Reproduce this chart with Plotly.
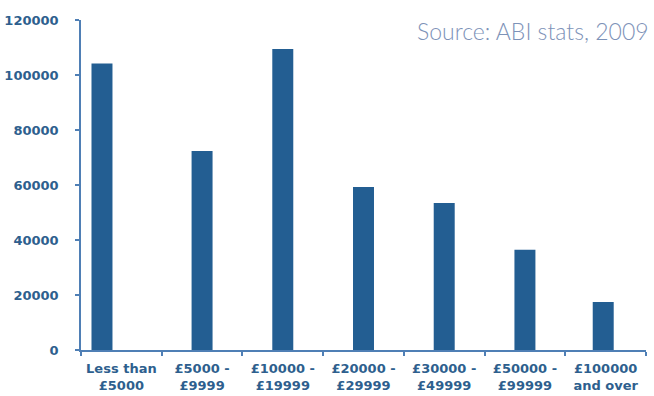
import plotly.graph_objects as go

categories = ["Less than<br>£5000", "£5000 -<br>£9999", "£10000 -<br>£19999",
              "£20000 -<br>£29999", "£30000 -<br>£49999", "£50000 -<br>£99999",
              "£100000<br>and over"]
values = [104200, 72400, 109500, 59300, 53500, 36500, 17500]
y_ticks = [0, 20000, 40000, 60000, 80000, 100000, 120000]

bar_offsets = [-0.37, -0.13, -0.13, -0.13, -0.13, -0.13, -0.16]

text_color = "#2E5F8E"
axis_color = "#4F7FB5"

fig = go.Figure(go.Bar(
    x=categories, y=values,
    marker=dict(color="#235E92", line=dict(width=0)),
    width=0.26, offset=bar_offsets,
))

fig.update_layout(
    width=654, height=396,
    margin=dict(l=81, r=8, t=20, b=46),
    paper_bgcolor="white", plot_bgcolor="white",
    showlegend=False,
    font=dict(family="DejaVu Sans", color=text_color),
    annotations=[dict(
        text="Source: ABI stats, 2009", xref="paper", yref="paper",
        x=0.5912, y=1.0, xanchor="left", yanchor="middle", yshift=-11,
        showarrow=False,
        font=dict(family="Lato", size=23, color="#7D92B8", weight=300),
    )],
)
fig.update_xaxes(
    type="category", tickson="boundaries", range=[-0.5, 6.5],
    automargin=False, tickangle=0,
    showline=True, linecolor=axis_color, linewidth=1.5,
    ticks="outside", ticklen=4, tickcolor=axis_color, tickwidth=1.5,
    ticklabelstandoff=6,
    tickfont=dict(family="DejaVu Sans", size=13, color=text_color, weight="bold"),
    showgrid=False, zeroline=False,
)
fig.update_yaxes(
    range=[0, 120000], tickvals=y_ticks, ticktext=[str(v) for v in y_ticks],
    automargin=False,
    showline=True, linecolor=axis_color, linewidth=1.5,
    ticks="outside", ticklen=4, tickcolor=axis_color, tickwidth=1.5,
    ticklabelstandoff=14,
    tickfont=dict(family="DejaVu Sans", size=13, color=text_color, weight="bold"),
    showgrid=False, zeroline=False,
)

fig.write_html("out.html", config={"displayModeBar": False},
               post_script="document.body.style.margin='0';")
